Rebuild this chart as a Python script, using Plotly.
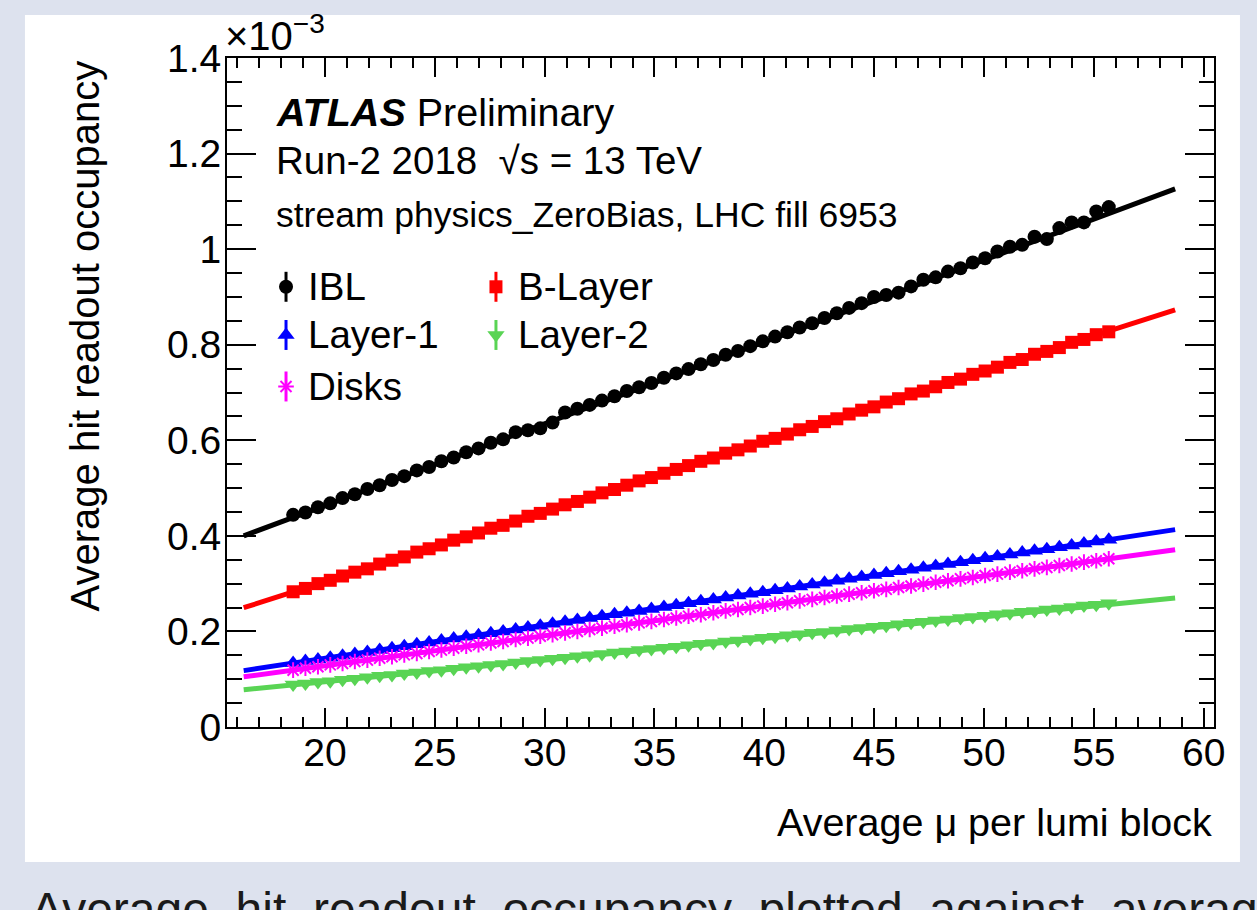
import plotly.graph_objects as go

# ---------------- data (occupancy in units of 1e-3) ----------------
mu = [18.55, 19.11, 19.68, 20.24, 20.80, 21.36, 21.93, 22.49, 23.05, 23.61,
      24.18, 24.74, 25.30, 25.86, 26.43, 26.99, 27.55, 28.11, 28.68, 29.24,
      29.80, 30.36, 30.93, 31.49, 32.05, 32.61, 33.18, 33.74, 34.30, 34.86,
      35.43, 35.99, 36.55, 37.11, 37.68, 38.24, 38.80, 39.36, 39.93, 40.49,
      41.05, 41.61, 42.18, 42.74, 43.30, 43.86, 44.43, 44.99, 45.55, 46.11,
      46.68, 47.24, 47.80, 48.36, 48.93, 49.49, 50.05, 50.61, 51.18, 51.74,
      52.30, 52.86, 53.43, 53.99, 54.55, 55.11, 55.68]

ibl = [0.444, 0.449, 0.460, 0.468, 0.479, 0.487, 0.498, 0.506, 0.517, 0.525,
       0.537, 0.544, 0.556, 0.564, 0.575, 0.583, 0.595, 0.602, 0.617, 0.621,
       0.625, 0.637, 0.658, 0.666, 0.674, 0.683, 0.692, 0.703, 0.711, 0.720,
       0.731, 0.740, 0.749, 0.759, 0.768, 0.779, 0.787, 0.797, 0.807, 0.817,
       0.826, 0.836, 0.845, 0.856, 0.866, 0.877, 0.887, 0.900, 0.904, 0.909,
       0.922, 0.936, 0.941, 0.953, 0.960, 0.972, 0.981, 0.995, 1.005, 1.009,
       1.026, 1.021, 1.044, 1.056, 1.056, 1.079, 1.088]

blayer = [0.283, 0.290, 0.300, 0.307, 0.316, 0.324, 0.331, 0.341, 0.349, 0.356,
          0.366, 0.373, 0.381, 0.391, 0.398, 0.406, 0.416, 0.422, 0.431, 0.441,
          0.447, 0.456, 0.465, 0.472, 0.481, 0.490, 0.497, 0.506, 0.515, 0.522,
          0.531, 0.539, 0.547, 0.556, 0.563, 0.573, 0.580, 0.588, 0.598, 0.604,
          0.613, 0.622, 0.629, 0.639, 0.645, 0.655, 0.663, 0.670, 0.680, 0.687,
          0.697, 0.703, 0.712, 0.721, 0.728, 0.738, 0.745, 0.753, 0.763, 0.769,
          0.780, 0.786, 0.794, 0.805, 0.811, 0.821, 0.827]

layer1 = [0.134, 0.138, 0.141, 0.145, 0.149, 0.153, 0.157, 0.161, 0.165, 0.169,
          0.173, 0.177, 0.181, 0.185, 0.189, 0.192, 0.196, 0.200, 0.204, 0.208,
          0.212, 0.216, 0.220, 0.224, 0.228, 0.232, 0.236, 0.239, 0.243, 0.247,
          0.251, 0.255, 0.259, 0.263, 0.267, 0.271, 0.275, 0.279, 0.282, 0.286,
          0.290, 0.294, 0.298, 0.302, 0.306, 0.310, 0.314, 0.318, 0.322, 0.326,
          0.329, 0.333, 0.337, 0.341, 0.345, 0.349, 0.353, 0.357, 0.361, 0.365,
          0.369, 0.372, 0.376, 0.380, 0.384, 0.388, 0.392]

disks = [0.119, 0.123, 0.126, 0.130, 0.133, 0.137, 0.140, 0.144, 0.147, 0.151,
         0.154, 0.158, 0.161, 0.165, 0.169, 0.172, 0.176, 0.179, 0.183, 0.186,
         0.190, 0.193, 0.197, 0.200, 0.204, 0.207, 0.211, 0.214, 0.218, 0.221,
         0.225, 0.228, 0.232, 0.235, 0.239, 0.243, 0.246, 0.250, 0.253, 0.257,
         0.260, 0.264, 0.267, 0.271, 0.274, 0.278, 0.281, 0.285, 0.288, 0.292,
         0.295, 0.299, 0.303, 0.306, 0.310, 0.313, 0.317, 0.320, 0.324, 0.327,
         0.331, 0.334, 0.338, 0.341, 0.345, 0.348, 0.352]

layer2 = [0.089, 0.091, 0.094, 0.096, 0.099, 0.101, 0.104, 0.107, 0.109, 0.112,
          0.114, 0.117, 0.119, 0.122, 0.125, 0.127, 0.130, 0.132, 0.135, 0.138,
          0.140, 0.143, 0.145, 0.148, 0.150, 0.153, 0.156, 0.158, 0.161, 0.163,
          0.166, 0.168, 0.171, 0.174, 0.176, 0.179, 0.181, 0.184, 0.187, 0.189,
          0.192, 0.194, 0.197, 0.199, 0.202, 0.205, 0.207, 0.210, 0.212, 0.215,
          0.218, 0.220, 0.223, 0.225, 0.228, 0.230, 0.233, 0.236, 0.238, 0.241,
          0.243, 0.246, 0.248, 0.251, 0.254, 0.256, 0.259]

# linear fit results, evaluated at the ends of the fit range
fit_mu = [16.3, 58.7]
fit_ibl = [0.400, 1.126]
fit_blayer = [0.2496, 0.873]
fit_layer1 = [0.118, 0.413]
fit_disks = [0.105, 0.371]
fit_layer2 = [0.078, 0.270]

names = ["IBL", "B-Layer", "Layer-1", "Layer-2", "Disks"]

for arr in (ibl, blayer, layer1, disks, layer2):
    assert len(arr) == len(mu)

# ---------------- styling ----------------
FONT = "Liberation Sans, Arial, Helvetica, sans-serif"
colors = {"IBL": "#000000", "B-Layer": "#ff0000", "Layer-1": "#0000ff",
          "Layer-2": "#59d454", "Disks": "#ff00ff"}
symbols = {"IBL": "circle", "B-Layer": "square", "Layer-1": "triangle-up",
           "Layer-2": "triangle-down", "Disks": "asterisk-open"}
sizes = {"IBL": 14, "B-Layer": 13, "Layer-1": 15, "Layer-2": 15, "Disks": 13}

values = {"IBL": ibl, "B-Layer": blayer, "Layer-1": layer1,
          "Layer-2": layer2, "Disks": disks}
fits = {"IBL": fit_ibl, "B-Layer": fit_blayer, "Layer-1": fit_layer1,
        "Layer-2": fit_layer2, "Disks": fit_disks}


def marker_for(n):
    m = dict(color=colors[n], symbol=symbols[n], size=sizes[n],
             line=dict(width=0, color=colors[n]))
    if "asterisk" in symbols[n]:
        m["line"]["width"] = 2
    return m


fig = go.Figure()
for n in ["IBL", "B-Layer", "Layer-1", "Layer-2", "Disks"]:
    fig.add_trace(go.Scatter(x=mu, y=values[n], mode="markers", name=n,
                             marker=marker_for(n), showlegend=False,
                             cliponaxis=True))
    fig.add_trace(go.Scatter(x=fit_mu, y=fits[n], mode="lines",
                             line=dict(color=colors[n], width=5),
                             showlegend=False, hoverinfo="skip"))

# ---------------- custom ROOT-style legend on an overlay axis ----------------
leg_pos = {"IBL": (0.0598, 0.658), "B-Layer": (0.2725, 0.658),
           "Layer-1": (0.0598, 0.586), "Layer-2": (0.2725, 0.586),
           "Disks": (0.0598, 0.509)}
annotations = []
for n in names:
    lx, ly = leg_pos[n]
    fig.add_trace(go.Scatter(x=[lx], y=[ly], xaxis="x2", yaxis="y2",
                             mode="markers", marker=marker_for(n),
                             error_y=dict(type="data", array=[0.0224],
                                          color=colors[n], thickness=3,
                                          width=0),
                             showlegend=False, hoverinfo="skip"))
    annotations.append(dict(xref="x2", yref="y2", x=lx + 0.020, y=ly,
                            xanchor="left", yanchor="middle", text=n,
                            showarrow=False,
                            font=dict(family=FONT, size=38.5, color="black")))

# ---------------- texts ----------------
annotations += [
    dict(xref="paper", yref="paper", x=0.0477, y=0.919, xanchor="left",
         yanchor="middle", showarrow=False,
         text="<b><i>ATLAS</i></b> Preliminary",
         font=dict(family=FONT, size=39.5, color="black")),
    dict(xref="paper", yref="paper", x=0.0477, y=0.8475, xanchor="left",
         yanchor="middle", showarrow=False,
         text="Run-2 2018  √s = 13 TeV",
         font=dict(family=FONT, size=38.5, color="black")),
    dict(xref="paper", yref="paper", x=0.0477, y=0.765, xanchor="left",
         yanchor="middle", showarrow=False,
         text="stream physics_ZeroBias, LHC fill 6953",
         font=dict(family=FONT, size=35.5, color="black")),
    dict(xref="paper", yref="paper", x=1.0, y=-0.142, xanchor="right",
         yanchor="middle", showarrow=False,
         text="Average μ per lumi block",
         font=dict(family=FONT, size=39.5, color="black")),
    dict(xref="paper", yref="paper", x=-0.1439, y=1.0, xanchor="center",
         yanchor="top", showarrow=False, textangle=-90,
         text="Average hit readout occupancy",
         font=dict(family=FONT, size=40, color="black")),
    dict(xref="paper", yref="paper", x=-0.004, y=0.997, xanchor="left",
         yanchor="bottom", showarrow=False,
         text="×10<sup>−3</sup>",
         font=dict(family=FONT, size=40, color="black")),
    dict(xref="paper", yref="paper", x=-0.2006, y=-0.230, xanchor="left",
         yanchor="top", showarrow=False,
         text="Average  hit  readout  occupancy  plotted  against  average",
         font=dict(family=FONT, size=48, color="#1a1a1a")),
]

shapes = [dict(type="rect", xref="paper", yref="paper", x0=-0.2047,
               x1=1.0263, y0=-0.2018, y1=1.0643, fillcolor="white",
               line=dict(width=0), layer="below")]

axis_common = dict(showline=True, linecolor="black", linewidth=2,
                   mirror="allticks", ticks="inside", tickcolor="black",
                   tickwidth=2, showgrid=False, zeroline=False,
                   tickfont=dict(family=FONT, size=39, color="black"))

fig.update_layout(
    width=1257, height=910,
    margin=dict(l=227, r=43, t=58, b=183),
    paper_bgcolor="rgb(221,226,238)",
    plot_bgcolor="white",
    showlegend=False,
    annotations=annotations,
    shapes=shapes,
    xaxis=dict(range=[15.54, 60.47], dtick=5, tick0=0, ticklen=19,
               ticklabelstandoff=-10,
               minor=dict(dtick=1, tick0=0, ticks="inside", ticklen=10,
                          tickwidth=2, tickcolor="black", showgrid=False),
               **axis_common),
    yaxis=dict(range=[0, 1.4], dtick=0.2, tick0=0, ticklen=29,
               ticklabelstandoff=-4,
               minor=dict(dtick=0.05, tick0=0, ticks="inside", ticklen=15,
                          tickwidth=2, tickcolor="black", showgrid=False),
               **axis_common),
    xaxis2=dict(overlaying="x", range=[0, 1], visible=False),
    yaxis2=dict(overlaying="y", range=[0, 1], visible=False),
)

fig.write_html("out.html")
